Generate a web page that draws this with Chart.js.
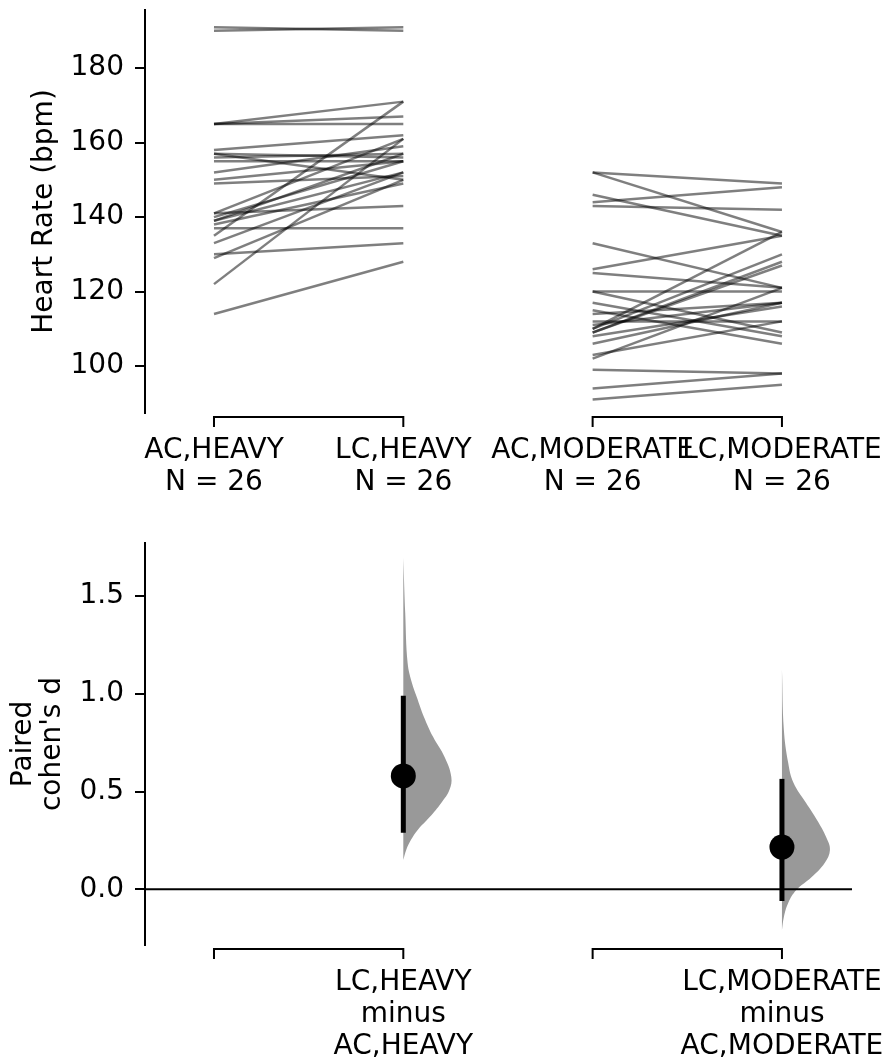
<!DOCTYPE html>
<html lang="en">
  <head>
    <meta charset="UTF-8" />
    <title>Paired Cohen's d</title>
    <script src="https://cdn.jsdelivr.net/npm/chart.js@4.4.1/dist/chart.umd.min.js"></script>
    <style>
      body {
        margin: 0;
        background: #fff;
      }
      canvas {
        display: block;
      }
    </style>
  </head>
  <body>
    <canvas id="pairedChart" width="885" height="520"></canvas>
    <canvas id="deltaChart" width="885" height="541"></canvas>

    <script>
      // groups and sample sizes
      const groups = ["AC,HEAVY", "LC,HEAVY", "AC,MODERATE", "LC,MODERATE"];
      const groupN = [26, 26, 26, 26];

      const acHeavy = [191, 190, 165, 165, 165, 158, 157, 156, 155, 157, 152, 150, 149,
                       141, 141, 140, 139, 139, 138, 137, 135, 133, 130, 129, 122, 114];
      const lcHeavy = [190, 191, 171, 167, 165, 162, 150, 157, 155, 156, 159, 155, 151,
                       143, 161, 155, 152, 157, 149, 137, 171, 152, 133, 150, 161, 128];
      const acModerate = [152, 152, 146, 144, 143, 133, 126, 125, 120, 120, 117, 115, 114,
                          112, 111, 110, 110, 109, 109, 108, 106, 103, 102, 99, 94, 91];
      const lcModerate = [149, 136, 135, 148, 142, 121, 135, 121, 120, 109, 108, 106, 117,
                          112, 117, 136, 130, 128, 127, 116, 117, 112, 121, 98, 98, 95];

      // effect sizes
      const deltaLabels = [["LC,HEAVY", "minus", "AC,HEAVY"], ["LC,MODERATE", "minus", "AC,MODERATE"]];
      const deltaPos = [1, 3];
      const deltaD = [0.58, 0.216];
      const deltaLow = [0.289, -0.06];
      const deltaHigh = [0.99, 0.565];

      // bootstrap distributions (value, relative density)
      const heavyDistVals = [1.695, 1.414, 1.158, 1.056, 0.984, 0.882, 0.78, 0.677, 0.575,
                             0.508, 0.442, 0.37, 0.304, 0.253, 0.201, 0.15];
      const heavyDistDens = [0, 0.04, 0.09, 0.18, 0.28, 0.43, 0.62, 0.86, 1.0,
                             0.96, 0.79, 0.55, 0.3, 0.16, 0.06, 0];
      const modDistVals = [1.123, 0.816, 0.647, 0.545, 0.443, 0.355, 0.268, 0.201, 0.135,
                           0.063, -0.004, -0.07, -0.142, -0.208];
      const modDistDens = [0, 0.04, 0.13, 0.24, 0.5, 0.73, 0.92, 1.0, 0.89,
                           0.62, 0.3, 0.13, 0.04, 0];

      const hrTicks = [100, 120, 140, 160, 180];
      const dTicks = [0, 0.5, 1.0, 1.5];
      const xTicks = [0, 1, 2, 3];

      const FONT = "'DejaVu Sans', sans-serif";
      const X_MIN = -0.3644, X_MAX = 3.37;
      const VIOLIN_W = 0.2535;

      Chart.defaults.color = "#000";
      Chart.defaults.font.family = FONT;
      Chart.defaults.animation = false;

      // matplotlib style brackets under the x axis
      const brackets = {
        id: "brackets",
        afterDraw(chart) {
          const ctx = chart.ctx;
          const xs = chart.scales.x;
          const y0 = xs.top + 4;
          ctx.save();
          ctx.strokeStyle = "#000";
          ctx.lineWidth = 2;
          [[0, 1], [2, 3]].forEach(([a, b]) => {
            const x1 = xs.getPixelForValue(a), x2 = xs.getPixelForValue(b);
            ctx.beginPath();
            ctx.moveTo(x1, y0 + 10);
            ctx.lineTo(x1, y0);
            ctx.lineTo(x2, y0);
            ctx.lineTo(x2, y0 + 10);
            ctx.stroke();
          });
          ctx.restore();
        }
      };

      const zeroLine = {
        id: "zeroLine",
        afterDatasetsDraw(chart) {
          const { ctx, chartArea } = chart;
          const y = chart.scales.y.getPixelForValue(0);
          ctx.save();
          ctx.strokeStyle = "#000";
          ctx.lineWidth = 2;
          ctx.beginPath();
          ctx.moveTo(chartArea.left, y);
          ctx.lineTo(chartArea.right, y);
          ctx.stroke();
          ctx.restore();
        }
      };

      function xScale(height, labelFn) {
        return {
          type: "linear",
          min: X_MIN,
          max: X_MAX,
          afterBuildTicks: (s) => { s.ticks = xTicks.map((v) => ({ value: v })); },
          afterFit: (s) => { s.height = height; s.paddingLeft = 0; s.paddingRight = 0; },
          grid: { display: false, drawTicks: false },
          border: { display: false },
          ticks: {
            autoSkip: false,
            maxRotation: 0,
            padding: 21,
            font: { size: 28, lineHeight: 1.16 },
            callback: (v, i) => labelFn(i)
          }
        };
      }

      function yScale(min, max, tickVals, fmt, title) {
        return {
          type: "linear",
          min: min,
          max: max,
          afterBuildTicks: (s) => { s.ticks = tickVals.map((v) => ({ value: v })); },
          afterFit: (s) => { s.width = 145; s.paddingTop = 0; s.paddingBottom = 0; },
          grid: { drawOnChartArea: false, drawTicks: true, tickLength: 10, color: "#000", lineWidth: 2 },
          border: { display: true, color: "#000", width: 2 },
          ticks: { padding: 11, font: { size: 28 }, callback: fmt },
          title: title
        };
      }

      // top: paired slopegraph
      const pairedSets = [];
      for (let i = 0; i < acHeavy.length; i++) {
        pairedSets.push({ data: [{ x: 0, y: acHeavy[i] }, { x: 1, y: lcHeavy[i] }] });
      }
      for (let i = 0; i < acModerate.length; i++) {
        pairedSets.push({ data: [{ x: 2, y: acModerate[i] }, { x: 3, y: lcModerate[i] }] });
      }
      pairedSets.forEach((d) => {
        d.borderColor = "rgba(0,0,0,0.5)";
        d.borderWidth = 2.5;
        d.pointRadius = 0;
        d.fill = false;
      });

      new Chart(document.getElementById("pairedChart"), {
        type: "line",
        data: { datasets: pairedSets },
        options: {
          responsive: false,
          devicePixelRatio: 1,
          layout: { padding: { top: 10, right: 33, bottom: 0, left: 0 } },
          plugins: { legend: { display: false }, tooltip: { enabled: false } },
          scales: {
            x: xScale(107, (i) => [groups[i], "N = " + groupN[i]]),
            y: yScale(87.4, 195.6, hrTicks, (v) => String(v), {
              display: true,
              text: "Heart Rate (bpm)",
              font: { size: 28 },
              padding: { top: 28, bottom: 0 }
            })
          }
        },
        plugins: [brackets]
      });

      // bottom: effect sizes with bootstrap half-violins
      function violin(pos, vals, dens) {
        const pts = vals.map((v, i) => ({ x: pos + dens[i] * VIOLIN_W, y: v }));
        pts.unshift({ x: pos, y: vals[0] });
        pts.push({ x: pos, y: vals[vals.length - 1] });
        return {
          data: pts,
          borderWidth: 0,
          borderColor: "rgba(0,0,0,0)",
          backgroundColor: "#999999",
          fill: "shape",
          tension: 0.4,
          pointRadius: 0,
          order: 3
        };
      }

      const deltaSets = [
        violin(deltaPos[0], heavyDistVals, heavyDistDens),
        violin(deltaPos[1], modDistVals, modDistDens)
      ];
      deltaPos.forEach((p, i) => {
        deltaSets.push({
          data: [{ x: p, y: deltaLow[i] }, { x: p, y: deltaHigh[i] }],
          borderColor: "#000",
          borderWidth: 5,
          borderCapStyle: "butt",
          pointRadius: 0,
          fill: false,
          order: 2
        });
        deltaSets.push({
          data: [{ x: p, y: deltaD[i] }],
          showLine: false,
          pointRadius: 12.5,
          pointBackgroundColor: "#000",
          pointBorderWidth: 0,
          order: 1
        });
      });

      new Chart(document.getElementById("deltaChart"), {
        type: "line",
        data: { datasets: deltaSets },
        options: {
          responsive: false,
          devicePixelRatio: 1,
          layout: { padding: { top: 23, right: 33, bottom: 0, left: 0 } },
          plugins: { legend: { display: false }, tooltip: { enabled: false } },
          scales: {
            x: xScale(116, (i) => (i === 1 ? deltaLabels[0] : i === 3 ? deltaLabels[1] : "")),
            y: yScale(-0.285, 1.772, dTicks, (v) => v.toFixed(1), {
              display: true,
              text: ["Paired", "cohen's d"],
              font: { size: 28, lineHeight: 1.05 },
              padding: { top: 9, bottom: 0 }
            })
          }
        },
        plugins: [brackets, zeroLine]
      });
    </script>
  </body>
</html>
